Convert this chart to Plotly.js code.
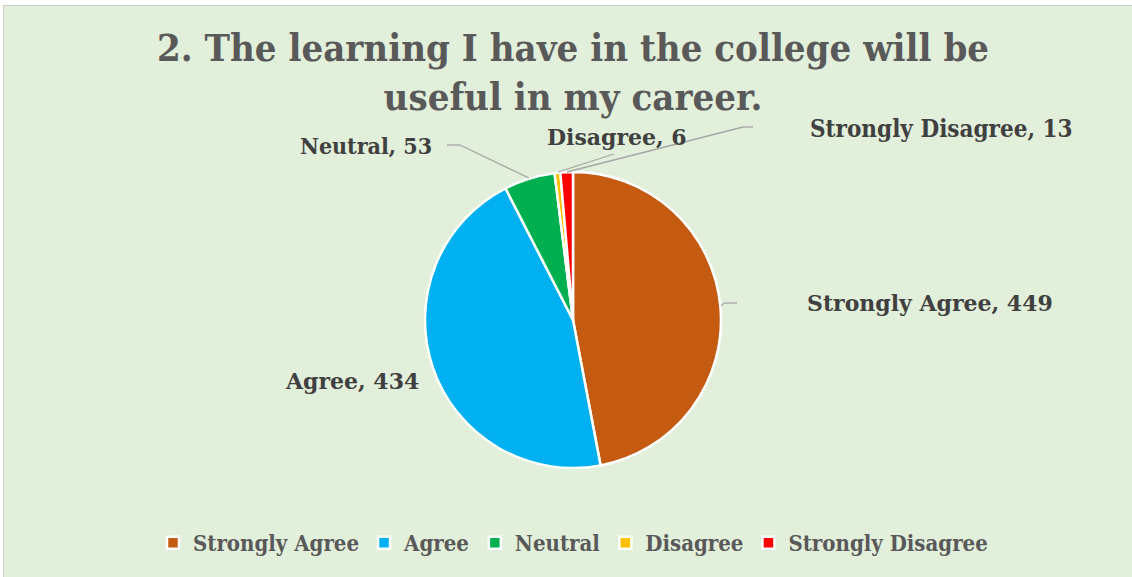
<!DOCTYPE html>
<html>
<head>
<meta charset="utf-8">
<script src="https://cdn.plot.ly/plotly-3.0.1.min.js"></script>
<style>
  html, body { margin: 0; padding: 0; background: #ffffff; }
  #chart { position: absolute; left: 3px; top: 5px; width: 1128px; height: 571px;
           border-left: 1px solid #cfcfcf; border-top: 1px solid #cfcfcf; }
</style>
</head>
<body>
<div id="chart"></div>
<script>
const categories = ["Strongly Agree", "Agree", "Neutral", "Disagree", "Strongly Disagree"];
const counts = [449, 434, 53, 6, 13];
const colors = ["#C55A11", "#00B0F0", "#00B050", "#FFC000", "#FF0000"];
const titleText = "2. The learning I have in the college will be<br>useful in my career.";

const W = 1128, H = 571, OX = 4, OY = 6;
const px = X => (X - OX) / W;
const py = Y => 1 - (Y - OY) / H;

const bookman = "DejaVu Serif";
const rockwell = "DejaVu Serif Condensed";

// label placement (page pixels) & fonts per category
const labelPos = [
  {x: 805, y: 303, f: bookman, s: 22},
  {x: 283, y: 381, f: bookman, s: 22},
  {x: 298, y: 146, f: rockwell, s: 23},
  {x: 545, y: 137, f: bookman, s: 22},
  {x: 808, y: 128, f: rockwell, s: 24}
];
const annotations = categories.map((c, i) => ({
  text: "<b>" + c + ", " + counts[i] + "</b>",
  xref: "paper", yref: "paper",
  x: px(labelPos[i].x), y: py(labelPos[i].y),
  xanchor: "left", yanchor: "middle", showarrow: false,
  font: {family: labelPos[i].f, size: labelPos[i].s, color: "#404040"}
}));

const leaders = [
  [[721,306],[724,303],[737,303]],
  [[447,145],[460,145],[529,178]],
  [[614,154],[558,172]],
  [[753,127],[743,127],[567,172]]
];
const shapes = [];
leaders.forEach(pts => {
  for (let k = 0; k < pts.length - 1; k++) {
    shapes.push({type: "line", xref: "paper", yref: "paper",
      x0: px(pts[k][0]), y0: py(pts[k][1]), x1: px(pts[k+1][0]), y1: py(pts[k+1][1]),
      line: {color: "#A6A6A6", width: 1.3}});
  }
});

const cx = 573, cy = 320, r = 148;
const trace = {
  type: "pie",
  labels: categories,
  values: counts,
  marker: {colors: colors, line: {color: "#ffffff", width: 2.5}},
  sort: false,
  direction: "clockwise",
  rotation: 0,
  textinfo: "none",
  hoverinfo: "label+value",
  domain: {x: [px(cx - r), px(cx + r)], y: [py(cy + r), py(cy - r)]}
};

const layout = {
  width: W, height: H,
  margin: {l: 0, r: 0, t: 0, b: 0},
  paper_bgcolor: "#E2EFDA",
  plot_bgcolor: "#E2EFDA",
  title: {
    text: "<b>" + titleText + "</b>",
    x: px(573), xanchor: "center",
    y: py(61), yanchor: "top", yref: "container",
    font: {family: rockwell, size: 38, color: "#595959"}
  },
  showlegend: true,
  legend: {
    orientation: "h",
    x: px(573), xanchor: "center",
    y: py(543), yanchor: "middle",
    font: {family: rockwell, size: 22, color: "#595959", weight: "bold"},
    itemwidth: 30,
    traceorder: "normal"
  },
  annotations: annotations,
  shapes: shapes
};

Plotly.newPlot("chart", [trace], layout, {displayModeBar: false, staticPlot: true});
</script>
</body>
</html>
